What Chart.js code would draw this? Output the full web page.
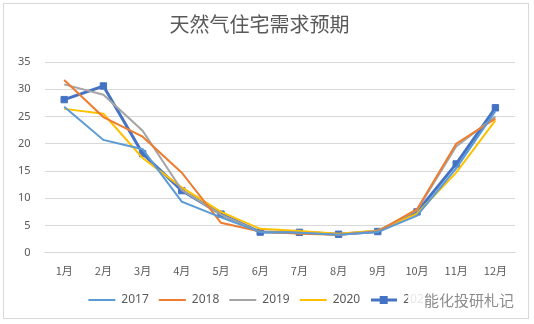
<!DOCTYPE html>
<html lang="zh">
<head>
<meta charset="UTF-8">
<title>天然气住宅需求预期</title>
<script src="https://cdn.jsdelivr.net/npm/chart.js"></script>
<style>
    body { margin: 0; background: #fff; }
    .frame {
        position: absolute; left: 3px; top: 3px; width: 526px; height: 316px;
        border: 1px solid #d9d9d9; box-sizing: border-box; background: #fff;
    }
    .chart-box { position: absolute; left: 0; top: 0; width: 524px; height: 314px; }
    .mark {
        position: absolute; left: 404px; top: 285px; padding: 0 4px 0 16px;
        color: #8c8c8c; background: rgba(255, 255, 255, 0.85);
        font: 15px "Noto Sans CJK SC", sans-serif;
    }
</style>
</head>
<body>
<div class="frame">
    <div class="chart-box"><canvas id="demandChart"></canvas></div>
    <span class="mark">能化投研札记</span>
</div>
<script>
const months = ['1月', '2月', '3月', '4月', '5月', '6月', '7月', '8月', '9月', '10月', '11月', '12月'];
const y2017 = [26.8, 20.7, 19.0, 9.4, 6.5, 3.8, 3.7, 3.3, 3.8, 6.8, 15.5, 26.0];
const y2018 = [31.7, 24.9, 21.3, 14.7, 5.5, 3.9, 3.5, 3.3, 3.9, 8.0, 20.0, 24.6];
const y2019 = [30.9, 29.0, 22.4, 11.5, 7.0, 3.8, 3.7, 3.3, 4.0, 7.8, 19.5, 25.0];
const y2020 = [26.4, 25.5, 17.4, 12.0, 7.5, 4.4, 4.0, 3.5, 4.1, 7.2, 14.7, 24.3];
const y2021 = [28.1, 30.6, 18.2, 11.4, 7.1, 3.8, 3.75, 3.4, 3.9, 7.5, 16.3, 26.6];

// legend icon for the marker series: line with a square in the middle
const icon = document.createElement('canvas');
icon.width = 26; icon.height = 10;
const ic = icon.getContext('2d');
ic.strokeStyle = '#4472C4'; ic.lineWidth = 3;
ic.beginPath(); ic.moveTo(0, 5); ic.lineTo(26, 5); ic.stroke();
ic.fillStyle = '#4472C4'; ic.fillRect(9, 1, 8, 8);

function line(label, data, color) {
    return {
        label: label, data: data, borderColor: color, backgroundColor: color,
        borderWidth: 2, pointRadius: 0, pointStyle: 'line', tension: 0
    };
}

const ctx = document.getElementById('demandChart').getContext('2d');
new Chart(ctx, {
    type: 'line',
    data: {
        labels: months,
        datasets: [
            line('2017', y2017, '#5B9BD5'),
            line('2018', y2018, '#ED7D31'),
            line('2019', y2019, '#A5A5A5'),
            line('2020', y2020, '#FFC000'),
            {
                label: '2021', data: y2021, borderColor: '#4472C4', backgroundColor: '#4472C4',
                borderWidth: 3, pointStyle: icon, pointRadius: 0, tension: 0
            },
            {
                label: 'markers', data: y2021, showLine: false, pointStyle: 'rect',
                pointRadius: 4.5, pointBackgroundColor: '#4472C4', pointBorderColor: '#4472C4'
            }
        ]
    },
    options: {
        responsive: true,
        maintainAspectRatio: false,
        animation: false,
        layout: { padding: { left: 0, right: 13, top: 0, bottom: 2 } },
        plugins: {
            title: {
                display: true, text: '天然气住宅需求预期', color: '#595959',
                font: { family: '"Noto Sans CJK SC", sans-serif', size: 20, weight: 'normal' },
                padding: { top: 8, bottom: 26 }
            },
            legend: {
                position: 'bottom',
                labels: {
                    usePointStyle: true, pointStyleWidth: 27, padding: 10, color: '#595959',
                    font: { family: '"Noto Sans", sans-serif', size: 12 },
                    filter: item => item.text !== 'markers'
                }
            },
            tooltip: { enabled: false }
        },
        scales: {
            x: {
                offset: true,
                grid: { display: false },
                border: { color: '#d9d9d9' },
                ticks: { color: '#595959', font: { family: '"Noto Sans CJK SC", sans-serif', size: 11 }, maxRotation: 0, padding: 3 },
                afterFit: scale => { scale.height += 4; }
            },
            y: {
                min: 0, max: 35,
                grid: { color: '#d9d9d9', drawTicks: false },
                border: { display: false },
                ticks: { stepSize: 5, color: '#595959', font: { family: '"Noto Sans", sans-serif', size: 11 }, padding: 14 }
            }
        }
    }
});
</script>
</body>
</html>
